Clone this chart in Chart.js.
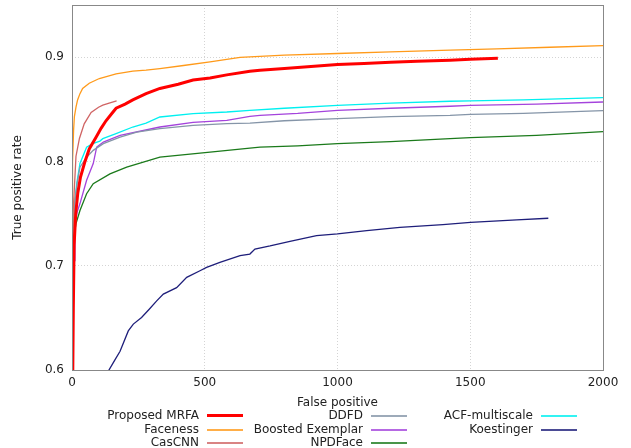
<!DOCTYPE html>
<html>
<head>
<meta charset="utf-8">
<script src="https://cdn.jsdelivr.net/npm/chart.js@4"></script>
<style>
  body { margin: 0; background: #fff; }
  #wrap { position: relative; width: 631px; height: 448px; font-family: "DejaVu Sans", sans-serif; font-size: 12px; color: #222; }
  #chart { position: absolute; left: 0; top: 0; }
  .item { position: absolute; height: 14px; line-height: 14px; }
  .item span { position: absolute; right: 0; white-space: nowrap; }
  .item i { position: absolute; width: 36px; }
</style>
</head>
<body>
<div id="wrap">
  <canvas id="chart" width="631" height="448"></canvas>
  <div id="legend"></div>
</div>
<script>
// tick labels
const xTicks = [0, 500, 1000, 1500, 2000];
const yTicks = [0.6, 0.7, 0.8, 0.9];

// series (false positives / true positive rate)
const mrfaFp  = [3, 5, 8, 14, 22, 32, 49, 65, 90, 110, 128, 150, 166, 200, 229, 279, 331, 400, 456, 520, 583, 670, 708, 800, 900, 1000, 1100, 1200, 1300, 1424, 1500, 1604];
const mrfaTpr = [0.600, 0.660, 0.720, 0.750, 0.770, 0.785, 0.800, 0.812, 0.823, 0.832, 0.839, 0.846, 0.851, 0.855, 0.859, 0.865, 0.870, 0.874, 0.878, 0.880, 0.883, 0.8865, 0.8875, 0.889, 0.891, 0.893, 0.894, 0.895, 0.896, 0.897, 0.898, 0.899];

const facenessFp  = [0, 1, 3, 6, 9, 15, 21, 30, 40, 65, 103, 166, 229, 279, 331, 420, 520, 633, 800, 1000, 1200, 1424, 1600, 1800, 2000];
const facenessTpr = [0.600, 0.750, 0.800, 0.830, 0.843, 0.852, 0.859, 0.865, 0.870, 0.875, 0.8795, 0.884, 0.8865, 0.8875, 0.889, 0.892, 0.8955, 0.8997, 0.902, 0.9035, 0.905, 0.9067, 0.908, 0.9095, 0.911];

const cascnnFp  = [1, 4, 10, 15, 28, 46, 72, 100, 116, 140, 168];
const cascnnTpr = [0.720, 0.750, 0.780, 0.805, 0.822, 0.836, 0.847, 0.852, 0.854, 0.856, 0.858];

const ddfdFp  = [0, 3, 11, 20, 30, 55, 80, 118, 181, 244, 331, 456, 583, 670, 800, 1000, 1200, 1424, 1500, 1700, 2000];
const ddfdTpr = [0.700, 0.730, 0.7625, 0.780, 0.7945, 0.804, 0.8106, 0.817, 0.8234, 0.8282, 0.8314, 0.8346, 0.8362, 0.8368, 0.839, 0.841, 0.843, 0.8442, 0.8452, 0.846, 0.8487];

const boostedFp  = [0, 5, 9, 11, 20, 30, 55, 80, 93, 118, 181, 331, 456, 583, 670, 708, 850, 1000, 1200, 1424, 1500, 1750, 2000];
const boostedTpr = [0.600, 0.670, 0.705, 0.740, 0.752, 0.7596, 0.782, 0.798, 0.8137, 0.8186, 0.825, 0.833, 0.8375, 0.8394, 0.8433, 0.8442, 0.846, 0.849, 0.851, 0.8529, 0.8538, 0.855, 0.857];

const npdFp  = [0, 2, 6, 11, 15, 30, 55, 80, 143, 206, 331, 520, 670, 708, 850, 1000, 1200, 1424, 1500, 1750, 2000];
const npdTpr = [0.700, 0.721, 0.728, 0.7337, 0.7404, 0.753, 0.769, 0.7786, 0.7881, 0.7945, 0.8041, 0.809, 0.8128, 0.8137, 0.815, 0.817, 0.819, 0.8218, 0.8228, 0.825, 0.8285];

const acfFp  = [0, 2, 5, 10, 18, 30, 55, 78, 105, 116, 166, 229, 279, 331, 456, 583, 670, 800, 1000, 1200, 1424, 1500, 1700, 2000];
const acfTpr = [0.600, 0.700, 0.740, 0.760, 0.779, 0.798, 0.8137, 0.817, 0.8195, 0.8218, 0.8266, 0.833, 0.8368, 0.8426, 0.8458, 0.8474, 0.849, 0.851, 0.8538, 0.856, 0.8577, 0.858, 0.859, 0.8612];

const koestFp  = [137, 160, 181, 212, 231, 262, 290, 319, 344, 394, 432, 482, 507, 557, 633, 670, 689, 746, 821, 921, 1000, 1110, 1235, 1397, 1501, 1675, 1794];
const koestTpr = [0.599, 0.609, 0.618, 0.6375, 0.644, 0.6503, 0.658, 0.6663, 0.6728, 0.679, 0.6888, 0.6952, 0.6984, 0.7032, 0.7096, 0.7112, 0.716, 0.719, 0.7234, 0.7288, 0.7305, 0.7337, 0.7368, 0.7394, 0.7416, 0.744, 0.7455];

const labels = ['Proposed MRFA', 'Faceness', 'CasCNN', 'DDFD', 'Boosted Exemplar', 'NPDFace', 'ACF-multiscale', 'Koestinger'];
const fps  = [mrfaFp, facenessFp, cascnnFp, ddfdFp, boostedFp, npdFp, acfFp, koestFp];
const tprs = [mrfaTpr, facenessTpr, cascnnTpr, ddfdTpr, boostedTpr, npdTpr, acfTpr, koestTpr];
const colors = ['#ff0000', '#ff9a1a', '#d06464', '#8595a8', '#a443dc', '#1b7a1b', '#00f0f0', '#1e1e7a'];
const widths = [3, 1.3, 1.3, 1.3, 1.3, 1.3, 1.3, 1.3];

const datasets = labels.map((lab, i) => ({
    label: lab,
    data: fps[i].map((x, j) => ({ x: x, y: tprs[i][j] })),
    borderColor: colors[i],
    borderWidth: widths[i],
    pointRadius: 0,
    fill: false,
    tension: 0
}));

const frame = {
    id: 'frame',
    afterDatasetsDraw(chart) {
        const a = chart.chartArea;
        const ctx = chart.ctx;
        ctx.save();
        ctx.strokeStyle = '#888';
        ctx.lineWidth = 1;
        ctx.strokeRect(Math.round(a.left) + 0.5, Math.round(a.top) + 0.5, Math.round(a.right - a.left), Math.round(a.bottom - a.top));
        ctx.restore();
    }
};

const gridOpts = { color: '#d4d4d4', drawTicks: false };
const tickFont = { family: 'DejaVu Sans', size: 12 };

new Chart(document.getElementById('chart').getContext('2d'), {
    type: 'line',
    data: { datasets: datasets },
    options: {
        responsive: false,
        animation: false,
        layout: { padding: { left: 0, top: 5, right: 28, bottom: 38 } },
        plugins: { legend: { display: false }, tooltip: { enabled: false } },
        scales: {
            x: {
                type: 'linear',
                min: 0, max: 2000,
                afterBuildTicks: s => { s.ticks = xTicks.map(v => ({ value: v })); },
                afterFit: s => { s.height = 40; },
                grid: gridOpts,
                border: { display: false, dash: [1, 2] },
                ticks: { padding: 6, color: '#222', font: tickFont, maxRotation: 0, callback: v => String(v) },
                title: { display: true, text: 'False positive', color: '#222', font: tickFont, padding: { top: 0, bottom: 0 } }
            },
            y: {
                min: 0.6, max: 0.95,
                afterBuildTicks: s => { s.ticks = yTicks.map(v => ({ value: v })); },
                afterFit: s => { s.width = 72; s.paddingTop = 0; s.paddingBottom = 0; },
                grid: gridOpts,
                border: { display: false, dash: [1, 2] },
                ticks: { padding: 8, color: '#222', font: tickFont, callback: v => v.toFixed(1) },
                title: { display: true, text: 'True positive rate', color: '#222', font: tickFont, padding: { top: 11, bottom: 0 } }
            }
        }
    },
    plugins: [frame]
});

// gnuplot-like key: text right-aligned, sample line to its right
const colRight = [199, 363, 533];
const rowTop = [408, 422, 435];
const legend = document.getElementById('legend');
datasets.forEach((d, i) => {
    const col = Math.floor(i / 3), row = i % 3;
    const h = d.borderWidth > 2 ? 3 : 2;
    const item = document.createElement('div');
    item.className = 'item';
    item.style.left = '0px';
    item.style.width = colRight[col] + 'px';
    item.style.top = rowTop[row] + 'px';
    const t = document.createElement('span');
    t.textContent = d.label;
    const ln = document.createElement('i');
    ln.style.left = (colRight[col] + 8) + 'px';
    ln.style.top = (8 - Math.ceil(h / 2)) + 'px';
    ln.style.height = h + 'px';
    ln.style.background = d.borderColor;
    ln.style.opacity = h === 2 ? 0.8 : 1;
    item.appendChild(t);
    item.appendChild(ln);
    legend.appendChild(item);
});
</script>
</body>
</html>
